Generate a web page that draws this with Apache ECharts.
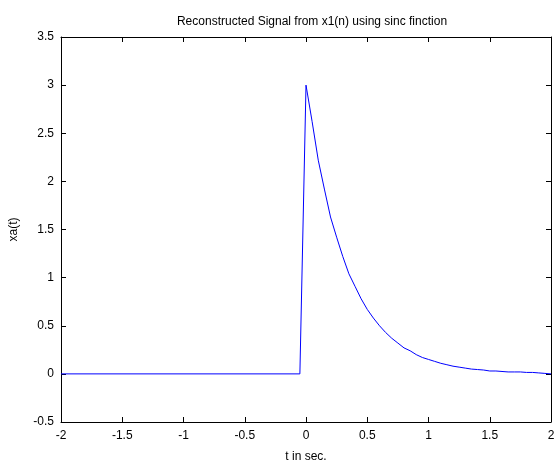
<!DOCTYPE html>
<html>
<head>
<meta charset="utf-8">
<script src="https://cdn.jsdelivr.net/npm/echarts@6/dist/echarts.min.js"></script>
<style>
  html, body { margin: 0; padding: 0; background: #fff; }
  #chart { width: 554px; height: 461px; }
</style>
</head>
<body>
<div id="chart"></div>
<script>
// time axis (sec) and reconstructed signal xa(t)
var tValues = [-2, -0.05, 0, 0.05, 0.1, 0.15, 0.2, 0.25, 0.3, 0.35, 0.4, 0.45, 0.5,
  0.55, 0.6, 0.65, 0.7, 0.75, 0.8, 0.85, 0.9, 0.95, 1.0, 1.05, 1.1, 1.15, 1.2,
  1.25, 1.3, 1.35, 1.4, 1.45, 1.5, 1.55, 1.6, 1.65, 1.7, 1.75, 1.8, 1.85, 1.9,
  1.95, 2.0];
var xaValues = [0, 0, 3.0, 2.62, 2.22, 1.92, 1.63, 1.42, 1.22, 1.04, 0.91, 0.78, 0.67,
  0.58, 0.5, 0.43, 0.37, 0.32, 0.27, 0.24, 0.2, 0.17, 0.15, 0.13, 0.11, 0.095, 0.08,
  0.07, 0.06, 0.05, 0.045, 0.04, 0.03, 0.03, 0.025, 0.02, 0.02, 0.02, 0.015, 0.015, 0.01,
  0.005, 0.0];
var xTicks = [-2, -1.5, -1, -0.5, 0, 0.5, 1, 1.5, 2];
var yTicks = [-0.5, 0, 0.5, 1, 1.5, 2, 2.5, 3, 3.5];

var points = tValues.map(function (t, i) { return [t, xaValues[i]]; });
var font = 'Liberation Sans, Arial, sans-serif';

var chart = echarts.init(document.getElementById('chart'));

function axisBase(show) {
  return {
    axisLine: { show: true, onZero: false, lineStyle: { color: '#000', width: 1 } },
    axisTick: { show: true, inside: true, length: 5, lineStyle: { color: '#000' } },
    splitLine: { show: false },
    axisLabel: { show: show, color: '#000', fontFamily: font, fontSize: 12 }
  };
}

var xMain = Object.assign(axisBase(true), {
  type: 'value', position: 'bottom', min: xTicks[0], max: xTicks[xTicks.length - 1],
  interval: 0.5, name: 't in sec.', nameLocation: 'middle', nameGap: 29,
  nameTextStyle: { color: '#000', fontFamily: font, fontSize: 12 }
});
xMain.axisLabel.margin = 8;
var xTop = Object.assign(axisBase(false), {
  type: 'value', position: 'top', min: xTicks[0], max: xTicks[xTicks.length - 1], interval: 0.5
});
var yMain = Object.assign(axisBase(true), {
  type: 'value', position: 'left', min: yTicks[0], max: yTicks[yTicks.length - 1],
  interval: 0.5, name: 'xa(t)', nameLocation: 'middle', nameGap: 41,
  nameTextStyle: { color: '#000', fontFamily: font, fontSize: 12 }
});
yMain.axisLabel.margin = 7;
var yRight = Object.assign(axisBase(false), {
  type: 'value', position: 'right', min: yTicks[0], max: yTicks[yTicks.length - 1], interval: 0.5
});

chart.setOption({
  animation: false,
  backgroundColor: '#fff',
  title: {
    text: 'Reconstructed Signal from x1(n) using sinc finction',
    left: 307, top: 11, textAlign: 'center',
    textStyle: { color: '#000', fontFamily: font, fontSize: 12, fontWeight: 'normal' }
  },
  grid: { left: 61, right: 3, top: 37, bottom: 39, containLabel: false, outerBoundsMode: 'none' },
  xAxis: [xMain, xTop],
  yAxis: [yMain, yRight],
  series: [{
    type: 'line',
    data: points,
    showSymbol: false,
    lineStyle: { color: '#0000ff', width: 1 },
    xAxisIndex: 0,
    yAxisIndex: 0
  }]
});
</script>
</body>
</html>
